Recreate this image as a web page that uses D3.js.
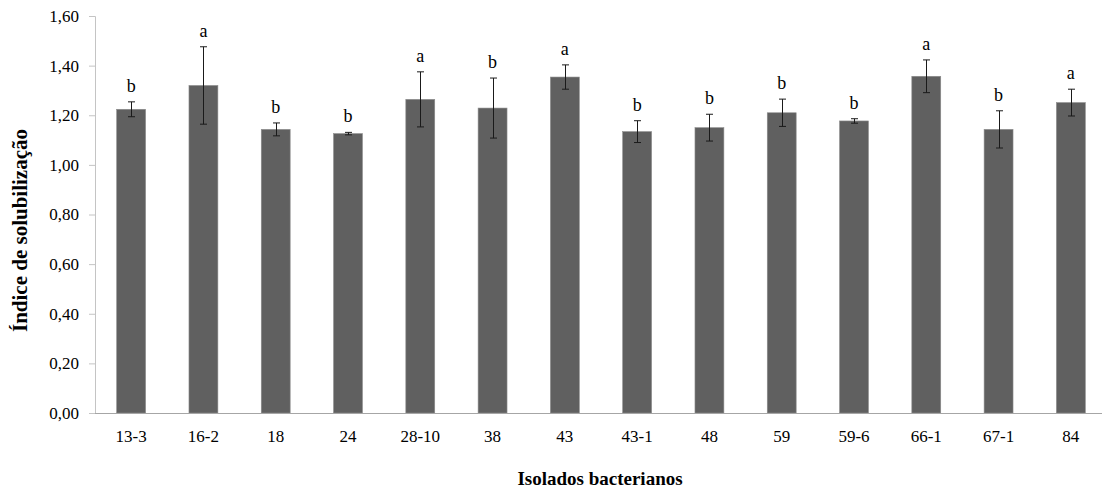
<!DOCTYPE html>
<html>
<head>
<meta charset="utf-8">
<script src="https://cdn.jsdelivr.net/npm/d3@7"></script>
<style>
  html, body { margin: 0; padding: 0; background: #fff; }
  svg { display: block; }
  svg text { font-family: "Liberation Serif", "Times New Roman", Times, serif !important; fill: #000; }
</style>
</head>
<body>
<svg id="chart" width="1102" height="488"></svg>
<script>
const categories = ["13-3", "16-2", "18", "24", "28-10", "38", "43", "43-1", "48", "59", "59-6", "66-1", "67-1", "84"];
const values = [1.224, 1.320, 1.143, 1.126, 1.264, 1.229, 1.354, 1.134, 1.150, 1.210, 1.177, 1.357, 1.143, 1.251];
const errors = [0.030, 0.156, 0.026, 0.005, 0.111, 0.121, 0.049, 0.044, 0.054, 0.055, 0.009, 0.066, 0.075, 0.054];
const letters = ["b", "a", "b", "b", "a", "b", "a", "b", "b", "b", "b", "a", "b", "a"];
const yTicks = [0, 0.2, 0.4, 0.6, 0.8, 1.0, 1.2, 1.4, 1.6];
const yTitle = "Índice de solubilização";
const xTitle = "Isolados bacterianos";

const SERIF = '"Liberation Serif", "Times New Roman", Times, serif';
const svg = d3.select("#chart");
const mLeft = 95, mRight = 1107, mTop = 16, mBottom = 413;

const x = d3.scaleBand().domain(categories).range([mLeft, mRight])
  .paddingInner(0.6).paddingOuter(0.3);
const y = d3.scaleLinear().domain([0, 1.6]).range([mBottom, mTop]);
const fmt = v => d3.format(".2f")(v).replace(".", ",");

// y axis
const yAxis = svg.append("g").attr("transform", `translate(${mLeft},0)`)
  .call(d3.axisLeft(y).tickValues(yTicks).tickFormat(fmt).tickSize(6).tickPadding(10))
  .attr("font-family", SERIF).attr("font-size", 17);
yAxis.select(".domain").attr("stroke", "#c4c4c4").attr("stroke-width", 1);
yAxis.selectAll(".tick line").attr("stroke", "#c4c4c4");
yAxis.selectAll(".tick text").attr("fill", "#000");

// bars
svg.append("g").selectAll("rect").data(categories).join("rect")
  .attr("x", d => x(d))
  .attr("width", x.bandwidth())
  .attr("y", (d, i) => y(values[i]))
  .attr("height", (d, i) => y(0) - y(values[i]))
  .attr("fill", "#606060")
  .attr("stroke", "#8c8c8c")
  .attr("stroke-width", 0.6);

// x axis
const xAxis = svg.append("g").attr("transform", `translate(0,${mBottom})`)
  .call(d3.axisBottom(x).tickSize(0).tickPadding(17))
  .attr("font-family", SERIF).attr("font-size", 17);
xAxis.select(".domain").attr("stroke", "#a6a6a6").attr("stroke-width", 1)
  .attr("d", `M${mLeft},0.5H${mRight}`);
xAxis.selectAll(".tick text").attr("fill", "#000");

// error bars
const eg = svg.append("g").attr("stroke", "#1a1a1a").attr("stroke-width", 1);
categories.forEach((c, i) => {
  const cx = Math.round(x(c) + x.bandwidth() / 2) + 0.5;
  const y1 = y(values[i] + errors[i]);
  const y2 = y(values[i] - errors[i]);
  eg.append("line").attr("x1", cx).attr("x2", cx).attr("y1", y1).attr("y2", y2);
  eg.append("line").attr("x1", cx - 3.5).attr("x2", cx + 3.5).attr("y1", y1).attr("y2", y1);
  eg.append("line").attr("x1", cx - 3.5).attr("x2", cx + 3.5).attr("y1", y2).attr("y2", y2);
});

// significance letters
svg.append("g").selectAll("text").data(categories).join("text")
  .attr("x", d => x(d) + x.bandwidth() / 2)
  .attr("y", (d, i) => y(values[i] + errors[i]) - 10)
  .attr("text-anchor", "middle")
  .attr("font-family", SERIF)
  .attr("font-size", 18)
  .text((d, i) => letters[i]);

// axis titles
svg.append("text")
  .attr("transform", `translate(27,${(mTop + mBottom) / 2 + 16}) rotate(-90)`)
  .attr("text-anchor", "middle")
  .attr("font-family", SERIF)
  .attr("font-size", 21).attr("font-weight", "bold")
  .text(yTitle);

svg.append("text")
  .attr("x", 600).attr("y", 485)
  .attr("text-anchor", "middle")
  .attr("font-family", SERIF)
  .attr("font-size", 19).attr("font-weight", "bold")
  .text(xTitle);
</script>
</body>
</html>
